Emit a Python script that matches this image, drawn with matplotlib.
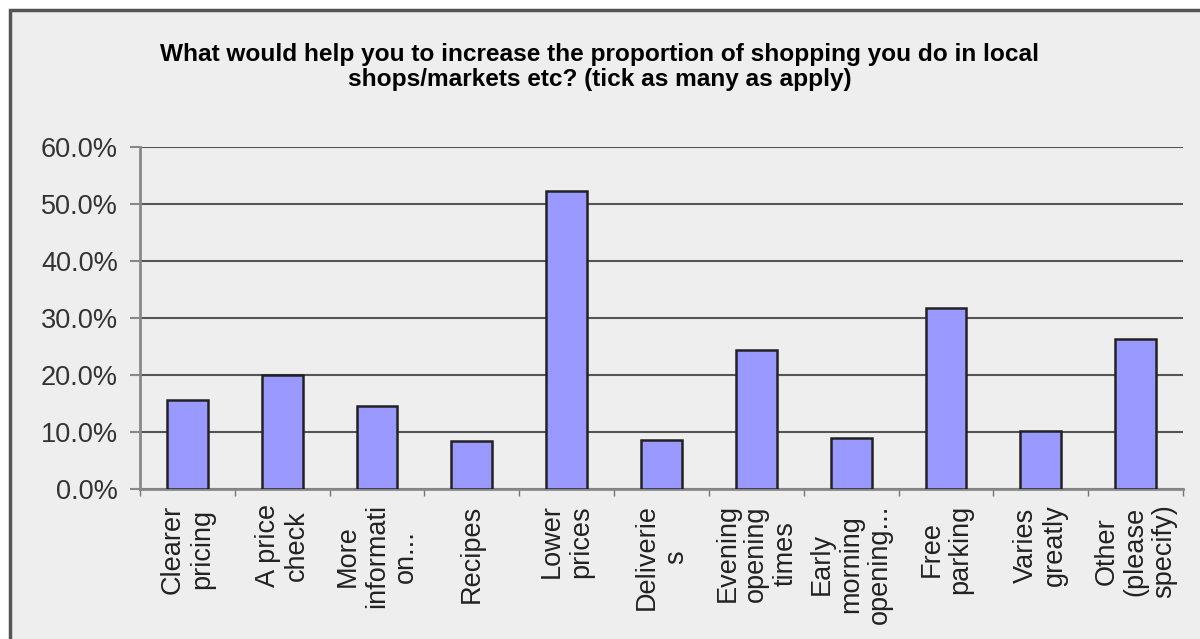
import matplotlib.pyplot as plt
from matplotlib.patches import Rectangle
from matplotlib.ticker import FuncFormatter, MultipleLocator
import numpy as np

categories = ['Clearer\npricing', 'A price\ncheck', 'More\ninformati\non...', 'Recipes',
              'Lower\nprices', 'Deliverie\ns', 'Evening\nopening\ntimes',
              'Early\nmorning\nopening...', 'Free\nparking', 'Varies\ngreatly',
              'Other\n(please\nspecify)']
values = [15.6, 20.0, 14.6, 8.5, 52.2, 8.6, 24.4, 9.0, 31.7, 10.2, 26.3]
title = ('What would help you to increase the proportion of shopping you do in local\n'
         'shops/markets etc? (tick as many as apply)')

plt.rcParams['font.family'] = ['Liberation Sans', 'DejaVu Sans']

fig = plt.figure(figsize=(12, 6.39), dpi=100)
fig.patch.set_facecolor('white')

# chart frame (cut off at right and bottom like the screenshot)
frame = Rectangle((10 / 1200, -0.1), 1.2, 1.1 - 10 / 639, transform=fig.transFigure,
                  facecolor='#eeeeee', edgecolor='#555555', linewidth=2.5, zorder=-1)
fig.patches.append(frame)

ax = fig.add_axes([140 / 1200, 1 - 489 / 639, (1183 - 140) / 1200, (489 - 147) / 639])
ax.set_zorder(2)
ax.set_facecolor('#eeeeee')

x = np.arange(len(categories))
ax.bar(x, values, width=0.43, color='#9999ff', edgecolor='#222222', linewidth=1.8, zorder=3)

ax.set_ylim(0, 60)
ax.set_xlim(-0.5, len(categories) - 0.5)
ax.yaxis.set_major_locator(MultipleLocator(10))
ax.yaxis.set_major_formatter(FuncFormatter(lambda v, p: '%.1f%%' % v))
ax.grid(axis='y', color='#555555', linewidth=1.5, zorder=1)

ax.set_xticks(x)
ax.set_xticklabels(categories, rotation=90, ha='center', va='top',
                   multialignment='center', fontsize=19.5, color='#222222',
                   linespacing=1.15)
ax.set_xticks(np.arange(-0.5, len(categories)), minor=True)
ax.tick_params(axis='x', which='major', length=0, pad=11)
ax.tick_params(axis='x', which='minor', length=5, width=1, color='#777777', direction='out')
ax.tick_params(axis='y', length=7, width=1.5, color='#888888', labelsize=19.5,
               labelcolor='#333333', pad=9)

for s in ['top', 'right']:
    ax.spines[s].set_visible(False)
ax.spines['left'].set_color('#888888')
ax.spines['left'].set_linewidth(2)
ax.spines['bottom'].set_color('#888888')
ax.spines['bottom'].set_linewidth(2)

fig.text(0.5, 1 - 67 / 639, title, ha='center', va='center', fontsize=17.6,
         fontweight='bold', linespacing=1.1, color='black', zorder=3)

fig.savefig('out.png', dpi=100)
